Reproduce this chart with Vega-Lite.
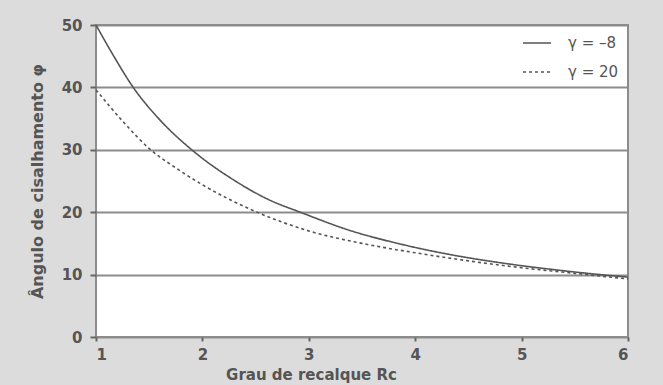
{
  "$schema": "https://vega.github.io/schema/vega-lite/v6.json",
  "width": 532,
  "height": 312,
  "autosize": {"type": "none"},
  "padding": {"left": 96, "top": 25, "right": 35, "bottom": 48},
  "background": "#dcdcdc",
  "config": {
    "view": {"fill": "white", "stroke": "#8c8c8c", "strokeWidth": 2},
    "font": "DejaVu Sans"
  },
  "data": {
    "values": [
      {"rc": 1.0, "phi": 50.0, "g": "γ = –8"},
      {"rc": 1.15, "phi": 45.5, "g": "γ = –8"},
      {"rc": 1.35, "phi": 40.0, "g": "γ = –8"},
      {"rc": 1.6, "phi": 34.8, "g": "γ = –8"},
      {"rc": 1.9, "phi": 30.0, "g": "γ = –8"},
      {"rc": 2.3, "phi": 25.1, "g": "γ = –8"},
      {"rc": 2.6, "phi": 22.2, "g": "γ = –8"},
      {"rc": 2.95, "phi": 19.8, "g": "γ = –8"},
      {"rc": 3.4, "phi": 17.0, "g": "γ = –8"},
      {"rc": 3.86, "phi": 14.9, "g": "γ = –8"},
      {"rc": 4.3, "phi": 13.3, "g": "γ = –8"},
      {"rc": 4.8, "phi": 11.9, "g": "γ = –8"},
      {"rc": 5.3, "phi": 10.8, "g": "γ = –8"},
      {"rc": 5.74, "phi": 10.0, "g": "γ = –8"},
      {"rc": 6.0, "phi": 9.6, "g": "γ = –8"},
      {"rc": 1.0, "phi": 39.6, "g": "γ = 20"},
      {"rc": 1.25, "phi": 34.6, "g": "γ = 20"},
      {"rc": 1.5, "phi": 30.2, "g": "γ = 20"},
      {"rc": 1.75, "phi": 27.1, "g": "γ = 20"},
      {"rc": 2.0, "phi": 24.4, "g": "γ = 20"},
      {"rc": 2.5, "phi": 20.1, "g": "γ = 20"},
      {"rc": 3.0, "phi": 17.0, "g": "γ = 20"},
      {"rc": 3.5, "phi": 15.0, "g": "γ = 20"},
      {"rc": 4.0, "phi": 13.5, "g": "γ = 20"},
      {"rc": 4.5, "phi": 12.2, "g": "γ = 20"},
      {"rc": 5.0, "phi": 11.1, "g": "γ = 20"},
      {"rc": 5.5, "phi": 10.2, "g": "γ = 20"},
      {"rc": 6.0, "phi": 9.3, "g": "γ = 20"}
    ]
  },
  "mark": {"type": "line", "interpolate": "monotone", "color": "#555555", "strokeWidth": 1.6, "clip": true},
  "encoding": {
    "x": {
      "field": "rc", "type": "quantitative",
      "scale": {"domain": [1, 6], "nice": false, "zero": false},
      "axis": {
        "values": [1, 2, 3, 4, 5, 6], "grid": false, "domain": false,
        "tickColor": "#666666", "tickSize": 4, "tickWidth": 2,
        "labelFontSize": 15, "labelFontWeight": "bold", "labelColor": "#555555",
        "labelPadding": 6,
        "title": "Grau de recalque Rc",
        "titleFontSize": 15, "titleFontWeight": "bold", "titleColor": "#555555",
        "titleX": 215, "titleY": 30, "titleAlign": "center", "titleBaseline": "top"
      }
    },
    "y": {
      "field": "phi", "type": "quantitative",
      "scale": {"domain": [0, 50], "nice": false},
      "axis": {
        "values": [0, 10, 20, 30, 40, 50], "grid": true, "gridColor": "#8c8c8c", "gridWidth": 2,
        "domain": false, "tickColor": "#666666", "tickSize": 6, "tickWidth": 2,
        "labelFontSize": 15, "labelFontWeight": "bold", "labelColor": "#555555",
        "labelPadding": 8,
        "title": "Ângulo de cisalhamento φ",
        "titleFontSize": 16, "titleFontWeight": "bold", "titleColor": "#555555",
        "titlePadding": 16
      }
    },
    "strokeDash": {
      "field": "g", "type": "nominal",
      "scale": {"domain": ["γ = –8", "γ = 20"], "range": [[1, 0], [3, 3]]},
      "legend": {
        "title": null, "orient": "none", "legendX": 426, "legendY": 3,
        "symbolType": "stroke", "symbolSize": 784, "symbolStrokeColor": "#555555", "symbolStrokeWidth": 1.6,
        "rowPadding": 6, "labelOffset": 16,
        "labelFontSize": 15, "labelColor": "#555555"
      }
    }
  }
}
